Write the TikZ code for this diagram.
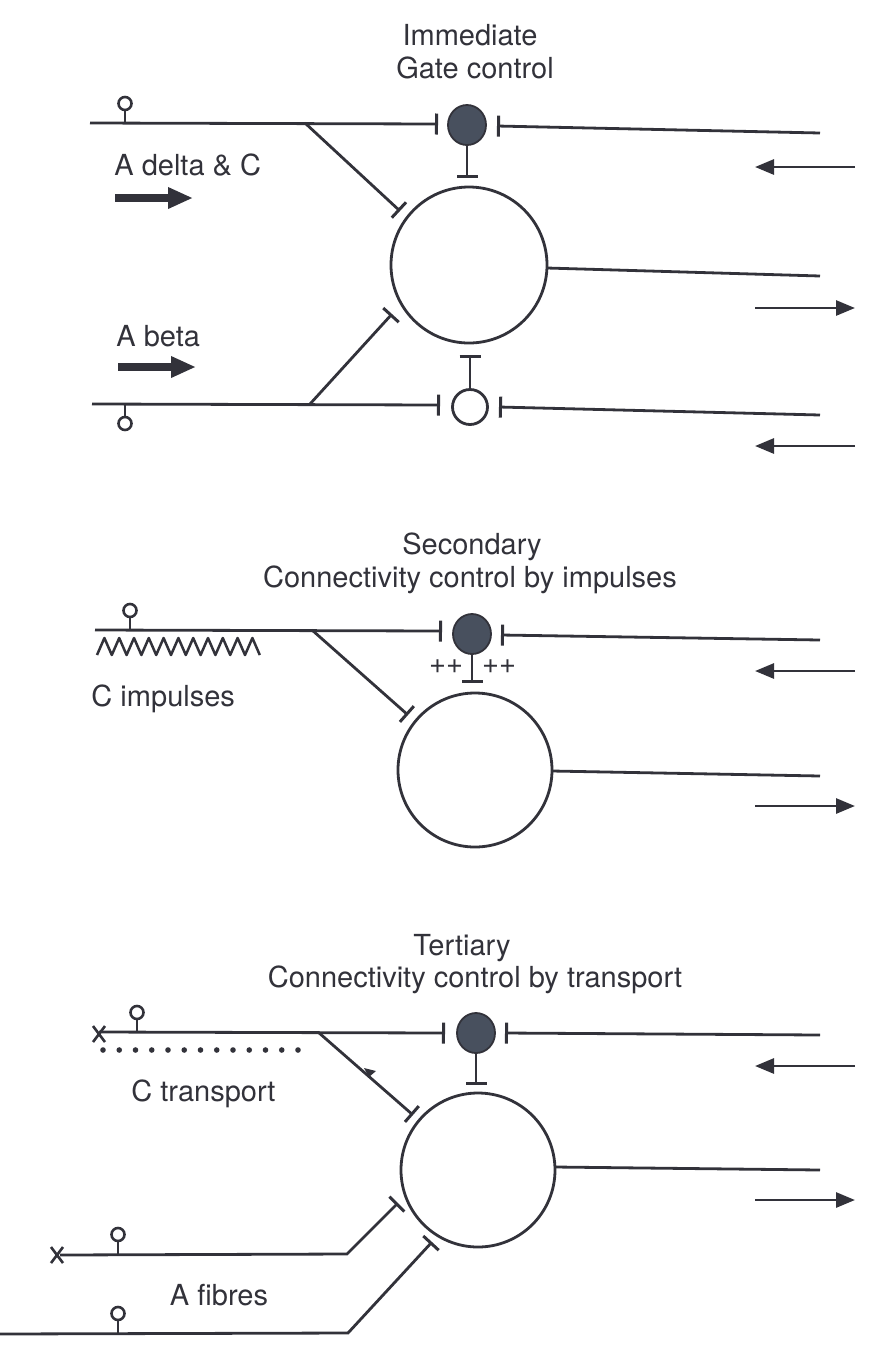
\documentclass[tikz,border=0pt]{standalone}
\usepackage{fontspec}
\setmainfont{TeX Gyre Heros}
\usetikzlibrary{arrows.meta,shapes.geometric}
\definecolor{inkc}{RGB}{50,50,58}
\definecolor{gatec}{RGB}{72,80,94}
\begin{document}
\begin{tikzpicture}[x=1pt,y=-1pt,
  color=inkc,
  line width=2.8pt,
  txt/.style={text=inkc,font=\fontsize{29}{34}\selectfont,inner sep=0pt},
  soma/.style={circle,draw=inkc,line width=2.8pt,inner sep=0pt},
  gatefill/.style={ellipse,draw=inkc,fill=gatec,line width=1.8pt,minimum width=38pt,minimum height=40pt,inner sep=0pt,outer sep=0pt},
  gateopen/.style={circle,draw=inkc,line width=2.8pt,minimum size=35pt,inner sep=0pt},
  tbar/.style={-{Bar[width=21pt,line width=3pt]}},
  tbarstart/.style={{Bar[width=21pt,line width=3pt]}-},
  rarrow/.style={line width=2.8pt,-{Triangle[length=19pt,width=15pt]}},
  fat/.style={line width=7.5pt,-{Triangle[length=25pt,width=20pt]}},
  lollyup/.pic={\draw[line width=2.6pt] (0,0) -- (0,-13); \draw[line width=2.6pt] (0,-19.5) circle[radius=6.5];},
  lollydown/.pic={\draw[line width=2.6pt] (0,0) -- (0,13); \draw[line width=2.6pt] (0,19.5) circle[radius=6.5];},
  xmark/.pic={\draw[line width=2.6pt] (-6,-8) -- (6,8); \draw[line width=2.6pt] (-6,8) -- (6,-8);}
]
\useasboundingbox (0,0) rectangle (886,1345);

%% ---------- Top: Immediate gate control ----------
\node[txt] (t1a) at (470,35) {Immediate};
\node[txt] (t1b) at (475,68) {Gate control};

\node[soma,minimum size=156pt] (C1) at (469,265) {};
\node[gatefill] (G1) at (467,125) {};
\node[gateopen] (H1) at (470,407) {};

\coordinate (a1s) at (90,123);
\coordinate (a1e) at (438,124);
\coordinate (a1b) at (305,123);
\coordinate (a1t) at (400,211);
\coordinate (r1s) at (497,126);
\coordinate (r1e) at (820,133);
\coordinate (g1t) at (467,178);
\draw[tbar] (a1s) -- (a1e);
\draw[tbar] (a1b) -- (a1t);
\draw[tbarstart] (r1s) -- (r1e);
\draw[tbar] (G1.south) -- (g1t);
\pic at (125,123) {lollyup};

\coordinate (o1s) at (547,268);
\coordinate (o1e) at (820,276);
\draw (o1s) -- (o1e);

\coordinate (b1s) at (92,404);
\coordinate (b1e) at (440,405);
\coordinate (b1b) at (310,404);
\coordinate (b1t) at (392,314);
\coordinate (r2s) at (499,407);
\coordinate (r2e) at (820,415);
\coordinate (h1t) at (470,355);
\draw[tbar] (b1s) -- (b1e);
\draw[tbar] (b1b) -- (b1t);
\draw[tbarstart] (r2s) -- (r2e);
\draw[tbar] (H1.north) -- (h1t);
\pic at (125,404) {lollydown};

\node[txt,anchor=west] (ad) at (113,165) {A delta \& C};
\coordinate (f1s) at (115,198); \coordinate (f1e) at (193,198);
\draw[fat] (f1s) -- (f1e);
\node[txt,anchor=west] (ab) at (115,336) {A beta};
\coordinate (f2s) at (118,367); \coordinate (f2e) at (196,367);
\draw[fat] (f2s) -- (f2e);

\coordinate (ra1s) at (855,167); \coordinate (ra1e) at (755,167);
\coordinate (ra2s) at (755,308); \coordinate (ra2e) at (855,308);
\coordinate (ra3s) at (855,446); \coordinate (ra3e) at (755,446);
\draw[rarrow] (ra1s) -- (ra1e);
\draw[rarrow] (ra2s) -- (ra2e);
\draw[rarrow] (ra3s) -- (ra3e);

%% ---------- Middle: Secondary ----------
\node[txt] (t2a) at (472,547) {Secondary};
\node[txt] (t2b) at (470,580) {Connectivity control by impulses};

\node[soma,minimum size=154pt] (C2) at (475,770) {};
\node[gatefill] (G2) at (472,634) {};

\coordinate (m1s) at (95,630);
\coordinate (m1e) at (442,631);
\coordinate (m1b) at (312,630);
\coordinate (m1t) at (408,715);
\coordinate (mr1s) at (501,635);
\coordinate (mr1e) at (820,640);
\coordinate (g2t) at (472,683);
\draw[tbar] (m1s) -- (m1e);
\draw[tbar] (m1b) -- (m1t);
\draw[tbarstart] (mr1s) -- (mr1e);
\draw[tbar] (G2.south) -- (g2t);
\pic at (130,630) {lollyup};
\node[txt] (pp1) at (446,667) {++};
\node[txt] (pp2) at (499,667) {++};

% zigzag (C impulses)
\draw[line width=2.5pt,line join=round]
  (97,655) \foreach \i in {0,...,10} { -- ({97+14.8*\i+7.4},638) -- ({97+14.8*(\i+1)},655) };
\node[txt,anchor=west] (ci) at (90,699) {C impulses};

\coordinate (mo1s) at (552,771);
\coordinate (mo1e) at (820,776);
\draw (mo1s) -- (mo1e);

\coordinate (mra1s) at (855,671); \coordinate (mra1e) at (755,671);
\coordinate (mra2s) at (755,806); \coordinate (mra2e) at (855,806);
\draw[rarrow] (mra1s) -- (mra1e);
\draw[rarrow] (mra2s) -- (mra2e);

%% ---------- Bottom: Tertiary ----------
\node[txt] (t3a) at (462,948) {Tertiary};
\node[txt] (t3b) at (475,980) {Connectivity control by transport};

\node[soma,minimum size=154pt] (C3) at (478,1170) {};
\node[gatefill] (G3) at (476,1033) {};

\coordinate (n1s) at (99,1032);
\coordinate (n1e) at (445,1033);
\coordinate (n1b) at (318,1032);
\coordinate (n1t) at (413,1115);
\coordinate (nr1s) at (505,1033);
\coordinate (nr1e) at (820,1035);
\coordinate (g3t) at (476,1085);
\draw[tbar] (n1s) -- (n1e);
\draw[tbar] (n1b) -- (n1t);
\draw[tbarstart] (nr1s) -- (nr1e);
\draw[tbar] (G3.south) -- (g3t);
\pic at (99,1034) {xmark};
\pic at (137,1032) {lollyup};
\fill[inkc] (364,1068) -- (376,1071) -- (369,1077) -- cycle;

\foreach \i in {0,...,12} { \fill[inkc] ({103+16.25*\i},1050) circle[radius=2.8]; }
\node[txt,anchor=west] (ct) at (130,1094) {C transport};

\coordinate (no1s) at (555,1167);
\coordinate (no1e) at (820,1170);
\draw (no1s) -- (no1e);

\coordinate (nra1s) at (855,1066); \coordinate (nra1e) at (755,1066);
\coordinate (nra2s) at (755,1200); \coordinate (nra2e) at (855,1200);
\draw[rarrow] (nra1s) -- (nra1e);
\draw[rarrow] (nra2s) -- (nra2e);

% A fibres
\coordinate (fa1s) at (60,1255);
\coordinate (fa1k) at (347,1254);
\coordinate (fa1t) at (398,1203);
\draw[tbar,line join=miter] (fa1s) -- (fa1k) -- (fa1t);
\pic at (57,1255) {xmark};
\pic at (118,1254) {lollyup};

\coordinate (fa2s) at (0,1334);
\coordinate (fa2k) at (348,1333);
\coordinate (fa2t) at (432,1242);
\draw[tbar,line join=miter] (fa2s) -- (fa2k) -- (fa2t);
\pic at (118,1333) {lollyup};

\node[txt] (af) at (219,1295) {A fibres};
\end{tikzpicture}
\end{document}
